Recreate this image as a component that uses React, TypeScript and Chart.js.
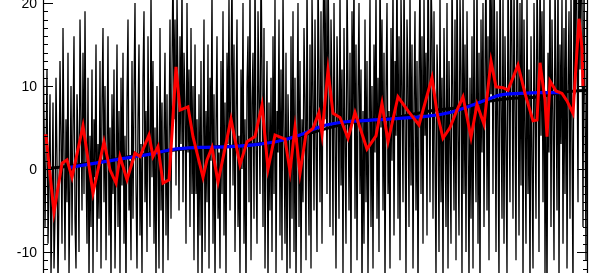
import React, { useEffect, useRef } from "react";
import { Chart, registerables } from "chart.js";

Chart.register(...registerables);

// Monthly noisy series (index = month)
const noise: number[] = [
  15, 6, -7, 2, 12, -9, -2, 9, -13, -4,
  8, -12, -6, 11, 1, -14, -3, 13, 4, -9,
  17, 2, -11, 6, -4, 14, -13, -2, 10, -8,
  5, 16, -6, -12, 9, 3, -10, 18, 7, -5,
  14, -3, 19, 1, -9, 11, -14, 4, -7, 12,
  -13, 6, -1, 15, -10, 3, -6, 13, -12, 8,
  17, -4, 10, -11, 2, 16, -8, 5, -14, 9,
  -3, 12, -12, 0, 15, -7, 7, -13, 11, -2,
  14, -9, 4, -15, 8, 18, -5, 1, -11, 13,
  -6, 9, 20, -2, -12, 6, 15, -8, 3, -13,
  11, 19, -4, 7, -10, 16, 2, -7, 22, -1,
  13, -9, 5, -14, 10, 1, -12, 17, -5, 8,
  -13, 4, 14, -8, 9, -11, 2, 18, -6, 12,
  25, 6, 18, -2, 21, 10, -5, 16, 3, 23,
  -4, 14, 8, -9, 20, 2, 12, -7, 17, -3,
  10, -11, 15, -3, 6, -13, 9, -8, 13, -14,
  3, 18, -10, 7, -4, 15, -12, 11, 1, 22,
  -9, 9, -14, 5, 16, -6, 2, -12, 13, -3,
  19, -8, 8, -13, 14, 3, 21, -5, 11, 24,
  -2, 15, -10, 7, 18, -7, 4, -13, 12, 0,
  20, -9, 6, -15, 10, 16, -4, 23, -11, 8,
  14, -6, 24, 3, -9, 19, 9, -3, 26, 12,
  -7, 17, -12, 4, 13, -14, 8, -5, 11, -10,
  16, -3, 21, -13, 7, 2, 18, -8, 12, -11,
  22, 5, -9, 14, -15, 9, 1, -12, 16, -6,
  19, -10, 11, -14, 4, 20, -7, 13, -13, 6,
  -4, 17, 8, -11, 23, 2, -8, 15, -12, 21,
  10, -5, 18, 3, -10, 24, 12, -4, 19, -9,
  15, 27, 6, 21, -3, 25, 13, -7, 18, 9,
  -8, 20, 4, -12, 16, 8, -6, 22, -2, 12,
  -13, 17, 3, -9, 23, 10, -5, 14, -14, 19,
  6, 24, -6, 15, -11, 9, 20, -3, 12, -15,
  7, -9, 18, -4, 13, -13, 4, 21, -7, 10,
  -12, 15, 2, 22, -6, 11, -10, 26, 5, 18,
  -5, 14, -14, 9, 20, -3, 7, -12, 17, 1,
  23, -8, 13, 4, 27, -6, 16, -11, 21, 10,
  -4, 24, 6, -13, 18, 11, -7, 22, -2, 15,
  -12, 8, 19, -5, 13, -15, 10, 25, -3, 16,
  -9, 21, 4, 14, -8, 27, 12, -4, 23, 17,
  -6, 19, 2, -13, 15, 8, -10, 22, -4, 11,
  -14, 17, 6, -7, 20, -12, 13, 3, -9, 24,
  9, -5, 18, -11, 26, 4, -8, 21, 12, -13,
  23, -3, 15, -10, 19, 5, -14, 11, -6, 16,
  -12, 22, 7, -4, 25, -9, 14, -15, 18, 2,
  20, -7, 12, 26, -5, 16, -11, 28, 9, 22,
  -3, 24, 13, -10, 19, 5, -14, 27, 8, -6,
  21, -9, 16, 3, -13, 25, 10, -4, 29, 14,
  -6, 23, 7, -11, 26, 15, -8, 20, -2, 24,
  -14, 18, 5, -9, 22, -3, 12, -15, 16, 1,
  -12, 20, 8, -6, 24, 13, -10, 27, 4, 19,
  -4, 22, -13, 9, -16, 14, 2, 25, -7, 18,
  6, -11, 23, 11, -5, 26, -14, 15, 3, 21,
  -9, 17, -3, 24, -12, 10, 19, -6, 22, 4,
  -15, 28, 9, 31, 16, -4, 30, 12, 25, 20,
  -7, 23, 8, -11, 19, 14, -3, 22, 6, 17,
];

// Red smoothed series (month index, value)
const redX: number[] = [
  0, 3, 11, 19, 24, 29, 40, 50, 61, 67, 73, 77, 84, 92, 97,
  106, 110, 115, 120, 126, 129, 133, 137, 145, 150, 160, 164, 169, 175, 188,
  197, 204, 212, 219, 225, 232, 242, 247, 252, 257, 263, 270, 276,
  279, 285, 290, 297, 305, 312, 324, 333, 339, 345, 355, 365,
  376, 389, 394, 400, 407, 414, 420, 428, 434, 441, 448, 453, 460,
  465, 475, 482, 490, 494, 497, 502, 504, 507, 513, 519, 524, 530,
  536, 539, 540,
];
const redY: number[] = [
  4.0, 4.0, -5.2, 0.7, 1.1, -1.0, 5.2, -2.9, 3.3, -0.1, -1.7, 1.5, -1.3, 1.9, 1.5,
  4.1, 1.5, 2.7, -1.7, -1.3, 4.3, 12.3, 7.1, 7.5, 3.9, -1.0, 1.1, 2.6, -1.6, 6.0,
  0.5, 3.3, 3.9, 7.7, 0.0, 4.1, 3.6, -0.3, 5.0, -0.5, 4.2, 4.9, 6.8,
  4.2, 11.9, 6.7, 6.2, 3.7, 6.8, 2.4, 4.0, 7.9, 3.3, 8.7, 7.0,
  5.3, 11.0, 6.8, 3.7, 5.0, 7.1, 8.7, 3.8, 7.8, 5.4, 13.0, 9.9, 9.8,
  9.5, 12.5, 9.1, 5.8, 5.9, 12.8, 8.3, 3.9, 10.6, 9.4, 9.1, 8.2, 6.7,
  18.1, 14.5, 9.9,
];

// Blue trend
const blueX: number[] = [
  27, 57, 87, 107, 132, 157, 187, 217, 237, 257, 277, 297,
  317, 357, 387, 407, 427, 447, 457, 477, 497, 517,
];
const blueY: number[] = [
  0.2, 0.8, 1.4, 1.8, 2.4, 2.6, 2.7, 3.0, 3.4, 4.1, 5.1, 5.6,
  5.8, 6.1, 6.4, 6.8, 7.6, 8.5, 8.9, 9.1, 9.2, 9.2,
];

// Black trend
const trendX: number[] = [
  5, 17, 57, 107, 157, 207, 257, 307, 357, 387, 417, 447,
  467, 497, 517, 545,
];
const trendY: number[] = [
  0.1, 0.2, 0.9, 1.9, 2.6, 2.9, 4.0, 5.6, 6.3, 7.0, 7.4, 8.2,
  8.5, 8.7, 9.2, 9.5,
];

const yTickValues: number[] = [-10, 0, 10, 20];
const yTickLabels: string[] = ["-10", "0", "10", "20"];
const yMin = -12.53;
const yMax = 20.36;
const xMin = 0;
const xMax = 545;

const pts = (xs: number[], ys: number[]) => xs.map((x, i) => ({ x, y: ys[i] }));

const axesPlugin = {
  id: "idlAxes",
  afterDatasetsDraw(chart: any) {
    const { ctx, chartArea, scales } = chart;
    const ys = scales.y;
    const L = chartArea.left;
    const R = chartArea.right;
    ctx.save();
    ctx.strokeStyle = "#000";
    ctx.lineWidth = 1.2;
    ctx.beginPath();
    ctx.moveTo(L + 0.5, 0);
    ctx.lineTo(L + 0.5, chart.height);
    ctx.moveTo(R - 0.5, 0);
    ctx.lineTo(R - 0.5, chart.height);
    ctx.stroke();
    ctx.lineWidth = 1;
    ctx.beginPath();
    for (let v = Math.ceil(yMin); v <= Math.floor(yMax); v++) {
      const py = Math.round(ys.getPixelForValue(v)) + 0.5;
      const major = yTickValues.includes(v);
      const lenL = major ? 10 : 5;
      const lenR = major ? 11 : 5;
      ctx.moveTo(L, py);
      ctx.lineTo(L + lenL, py);
      ctx.moveTo(R, py);
      ctx.lineTo(R - lenR, py);
    }
    ctx.stroke();
    ctx.fillStyle = "#000";
    ctx.font = "14px 'Liberation Sans', Arial, sans-serif";
    ctx.textAlign = "right";
    ctx.textBaseline = "middle";
    yTickValues.forEach((v, i) => {
      const py = ys.getPixelForValue(v);
      ctx.fillText(yTickLabels[i], L - 6, py + 1);
    });
    ctx.restore();
  },
};

export default function App() {
  const ref = useRef<HTMLCanvasElement | null>(null);
  useEffect(() => {
    if (!ref.current) return;
    const chart = new Chart(ref.current, {
      type: "line",
      data: {
        datasets: [
          {
            label: "smooth",
            data: pts(redX, redY),
            borderColor: "#ff0000",
            borderWidth: 3,
            pointRadius: 0,
            tension: 0,
            order: 0,
            clip: 0,
          },
          {
            label: "blue",
            data: pts(blueX, blueY),
            borderColor: "#0000ff",
            borderWidth: 3.2,
            pointRadius: 0,
            cubicInterpolationMode: "monotone",
            order: 1,
            clip: 0,
          },
          {
            label: "trend",
            data: pts(trendX, trendY),
            borderColor: "#000000",
            borderWidth: 3,
            pointRadius: 0,
            cubicInterpolationMode: "monotone",
            order: 2,
            clip: 0,
          },
          {
            label: "monthly",
            data: noise.map((v, i) => ({ x: i, y: v })),
            borderColor: "#000000",
            borderWidth: 1.3,
            pointRadius: 0,
            tension: 0,
            order: 3,
            clip: 0,
          },
        ],
      },
      options: {
        responsive: false,
        animation: false,
        parsing: true,
        layout: { padding: { left: 43, right: 24, top: 0, bottom: 0 } },
        plugins: { legend: { display: false }, tooltip: { enabled: false } },
        scales: {
          x: { type: "linear", min: xMin, max: xMax, display: false },
          y: { type: "linear", min: yMin, max: yMax, display: false },
        },
      },
      plugins: [axesPlugin],
    });
    return () => chart.destroy();
  }, []);
  return (
    <div style={{ position: "absolute", left: 0, top: 0, width: 612, height: 273, background: "#fff" }}>
      <canvas ref={ref} width={612} height={273} style={{ display: "block" }} />
    </div>
  );
}
